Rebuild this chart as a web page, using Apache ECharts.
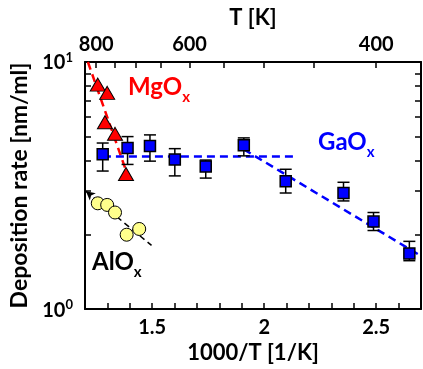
<!DOCTYPE html>
<html>
<head>
<meta charset="utf-8">
<script src="https://cdn.jsdelivr.net/npm/echarts@6/dist/echarts.min.js"></script>
<style>
html,body{margin:0;padding:0;background:#fff;}
#c{width:423px;height:369px;}
</style>
</head>
<body>
<div id="c"></div>
<script>
// ---- data ----
var gaX    = [1.279, 1.390, 1.490, 1.601, 1.739, 1.909, 2.096, 2.354, 2.488, 2.648];
var gaY    = [4.23, 4.49, 4.57, 4.03, 3.78, 4.60, 3.29, 2.95, 2.26, 1.68];
var gaErrHi= [4.70, 4.99, 5.07, 4.46, 4.01, 4.93, 3.68, 3.26, 2.46, 1.88];
var gaErrLo= [3.62, 3.85, 3.97, 3.46, 3.39, 4.17, 2.95, 2.74, 2.08, 1.57];

var mgX = [1.257, 1.299, 1.289, 1.334, 1.383];
var mgY = [8.10, 7.50, 5.70, 5.12, 3.52];

var alX = [1.257, 1.299, 1.334, 1.386, 1.442];
var alY = [2.68, 2.64, 2.46, 2.00, 2.11];

var mgFitX = [1.213, 1.380];
var mgFitY = [10.0, 3.70];
var gaFlatX = [1.28, 2.15];
var gaFlatY = [4.15, 4.15];
var gaSlopeX = [1.909, 2.70];
var gaSlopeY = [4.43, 1.64];
var alFitX = [1.204, 1.497];
var alFitY = [3.00, 1.81];

var xTicks = [1.2,1.3,1.4,1.5,1.6,1.7,1.8,1.9,2.0,2.1,2.2,2.3,2.4,2.5,2.6,2.7];
var xLabels = [1.5, 2, 2.5];
var tTicks = [800,750,700,650,600,550,500,450,400];
var tLabels = [800,600,400];
var yTicks = [1,2,3,4,5,6,7,8,9,10];
var yLabels = [1,10];

function pairs(xs, ys){ return xs.map(function(x,i){return [x, ys[i]];}); }

var FONT = 'Lato';
var chart = echarts.init(document.getElementById('c'));

var axisLine = {show:true, lineStyle:{color:'#000', width:2}};
var tickStyle = {color:'#000', width:1.5};

var option = {
  animation:false,
  grid:{left:85, right:2, top:62, bottom:56, containLabel:false},
  xAxis:[{
    type:'value', position:'bottom', min:1.2, max:2.7,
    axisLine:axisLine,
    axisTick:{show:true, inside:true, length:6, lineStyle:tickStyle, customValues:xTicks},
    axisLabel:{customValues:xLabels, margin:8, fontFamily:FONT, fontWeight:'bold', fontSize:20, color:'#000',
      formatter:function(v){return String(v);}},
    splitLine:{show:false},
    name:'1000/T [1/K]', nameLocation:'middle', nameGap:25,
    nameTextStyle:{fontFamily:FONT, fontWeight:'bold', fontSize:22, color:'#000'}
  },{
    type:'value', position:'top', min:1.2, max:2.7,
    axisLine:axisLine,
    axisTick:{show:true, inside:true, length:6, lineStyle:tickStyle, customValues:tTicks.map(function(t){return 1000/t;})},
    axisLabel:{customValues:tLabels.map(function(t){return 1000/t;}), margin:7, fontFamily:FONT, fontWeight:'bold', fontSize:20, color:'#000',
      formatter:function(v){return String(Math.round(1000/v));}},
    splitLine:{show:false},
    name:'T [K]', nameLocation:'middle', nameGap:33,
    nameTextStyle:{fontFamily:FONT, fontWeight:'bold', fontSize:22, color:'#000'}
  }],
  yAxis:[{
    type:'log', logBase:10, min:1, max:10, position:'left',
    axisLine:axisLine,
    axisTick:{show:true, inside:true, length:6, lineStyle:tickStyle, customValues:yTicks},
    axisLabel:{customValues:yLabels, margin:12, color:'#000',
      formatter:function(v){return '{b|10}{s|' + Math.round(Math.log(v)/Math.LN10) + '}';},
      rich:{
        b:{fontFamily:FONT, fontWeight:'bold', fontSize:20, color:'#000', verticalAlign:'bottom', lineHeight:22},
        s:{fontFamily:FONT, fontWeight:'bold', fontSize:13, color:'#000', verticalAlign:'top', lineHeight:22}
      }},
    splitLine:{show:false},
    name:'Deposition rate [nm/ml]', nameLocation:'middle', nameGap:46,
    nameTextStyle:{fontFamily:FONT, fontWeight:'bold', fontSize:23, color:'#000'}
  },{
    type:'log', logBase:10, min:1, max:10, position:'right',
    axisLine:axisLine,
    axisTick:{show:true, inside:true, length:6, lineStyle:tickStyle, customValues:yTicks},
    axisLabel:{show:false},
    splitLine:{show:false}
  }],
  series:[
    {type:'line', data:pairs(mgFitX,mgFitY), symbol:'none', z:3,
      lineStyle:{color:'#FF0000', width:2.5, type:[8,5]}},
    {type:'line', data:pairs(gaFlatX,gaFlatY), symbol:'none', z:3,
      lineStyle:{color:'#0000FF', width:2.5, type:[8,5]}},
    {type:'line', data:pairs(gaSlopeX,gaSlopeY), symbol:'none', z:3,
      lineStyle:{color:'#0000FF', width:2.5, type:[8,5]}},
    {type:'line', data:[], symbol:'none', z:3,
      markLine:{silent:true, symbol:['arrow','none'], symbolSize:[7,9], label:{show:false},
        lineStyle:{color:'#000', width:1.5, type:[6,4]},
        data:[[{coord:[alFitX[0], alFitY[0]]},{coord:[alFitX[1], alFitY[1]]}]]}},
    {type:'custom', z:4,
      data:gaX.map(function(x,i){return [x, gaErrLo[i], gaErrHi[i]];}),
      renderItem:function(params, api){
        var lo = api.coord([api.value(0), api.value(1)]);
        var hi = api.coord([api.value(0), api.value(2)]);
        var w = 6;
        var st = {stroke:'#000', lineWidth:1.5};
        return {type:'group', children:[
          {type:'line', shape:{x1:lo[0], y1:lo[1], x2:hi[0], y2:hi[1]}, style:st},
          {type:'line', shape:{x1:hi[0]-w, y1:hi[1], x2:hi[0]+w, y2:hi[1]}, style:st},
          {type:'line', shape:{x1:lo[0]-w, y1:lo[1], x2:lo[0]+w, y2:lo[1]}, style:st}
        ]};
      }},
    {type:'scatter', data:pairs(gaX,gaY), symbol:'rect', symbolSize:11, z:5,
      itemStyle:{color:'#0000FF', borderColor:'#000', borderWidth:1.5, opacity:1}},
    {type:'scatter', data:pairs(mgX,mgY), symbol:'triangle', symbolSize:[15,13], z:5,
      itemStyle:{color:'#FF0000', borderColor:'#000', borderWidth:1, opacity:1}},
    {type:'scatter', data:pairs(alX,alY), symbol:'circle', symbolSize:13, z:5,
      itemStyle:{color:'#FFFF8C', borderColor:'#000', borderWidth:1, opacity:1}}
  ],
  graphic:[
    {type:'text', left:128, top:75, z:10, style:{text:'{m|MgO}{x|x}', rich:{
      m:{fontFamily:FONT, fontWeight:'bold', fontSize:24, fill:'#FF0000', verticalAlign:'top', lineHeight:30},
      x:{fontFamily:FONT, fontWeight:'bold', fontSize:15, fill:'#FF0000', verticalAlign:'bottom', lineHeight:30}}}},
    {type:'text', left:318, top:130, z:10, style:{text:'{m|GaO}{x|x}', rich:{
      m:{fontFamily:FONT, fontWeight:'bold', fontSize:24, fill:'#0000FF', verticalAlign:'top', lineHeight:30},
      x:{fontFamily:FONT, fontWeight:'bold', fontSize:15, fill:'#0000FF', verticalAlign:'bottom', lineHeight:30}}}},
    {type:'text', left:92, top:250, z:10, style:{text:'{m|AlO}{x|x}', rich:{
      m:{fontFamily:FONT, fontWeight:'bold', fontSize:24, fill:'#000', verticalAlign:'top', lineHeight:30},
      x:{fontFamily:FONT, fontWeight:'bold', fontSize:15, fill:'#000', verticalAlign:'bottom', lineHeight:30}}}}
  ]
};
chart.setOption(option);
</script>
</body>
</html>
